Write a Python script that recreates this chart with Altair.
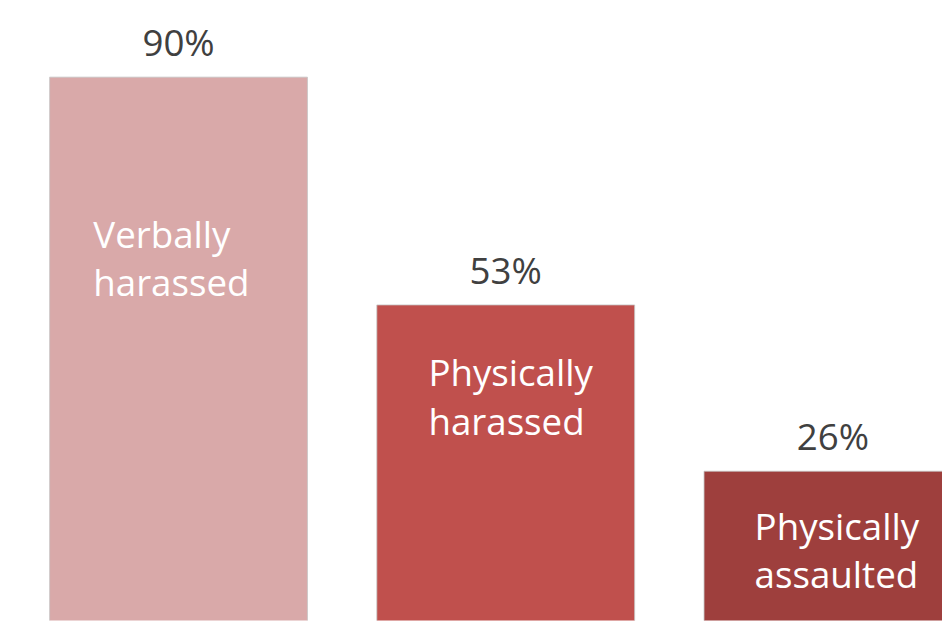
import altair as alt
import pandas as pd

categories = ["Verbally harassed", "Physically harassed", "Physically assaulted"]
values = [90, 53, 26]
value_labels = ["90%", "53%", "26%"]

bar_colors = ["#D9A9A9", "#C0504D", "#9E3F3D"]

df = pd.DataFrame({"category": categories, "value": values, "label": value_labels})

FONT = "Open Sans"

xscale = alt.Scale(domain=categories, range=[42, 962], paddingInner=70 / 330, paddingOuter=0)
yscale = alt.Scale(domain=[0, 100], range=[626, 5])

base = alt.Chart(df).encode(
    x=alt.X("category:N", sort=categories, scale=xscale, axis=None),
    y=alt.Y("value:Q", scale=yscale, axis=None),
)

bars = base.mark_bar(clip=True, stroke="#C4C4C4", strokeWidth=0.8).encode(
    color=alt.Color("category:N", scale=alt.Scale(domain=categories, range=bar_colors), legend=None)
)

value_text = base.mark_text(
    dy=-21, baseline="alphabetic", align="center", font=FONT, fontSize=37, color="#404040"
).encode(text="label:N")

# per-bar offsets for the in-bar labels (left edge offset from bar centre, and drop from bar top)
offsets = [(-86, 172), (-78, 82), (-79, 69)]
cat_layers = []
for cat, (dx, dy) in zip(categories, offsets):
    cat_layers.append(
        base.transform_filter(alt.datum.category == cat)
        .mark_text(
            align="left", baseline="alphabetic", dx=dx, dy=dy, lineBreak=" ",
            lineHeight=49, font=FONT, fontSize=37, color="white",
        )
        .encode(text="category:N")
    )

chart = (
    alt.layer(bars, value_text, *cat_layers)
    .properties(width=942, height=615, autosize=alt.AutoSizeParams(type="none"), padding=0, background="white")
    .configure_view(stroke=None)
)

chart.save("out.html", embed_options={"renderer": "svg", "actions": False})
